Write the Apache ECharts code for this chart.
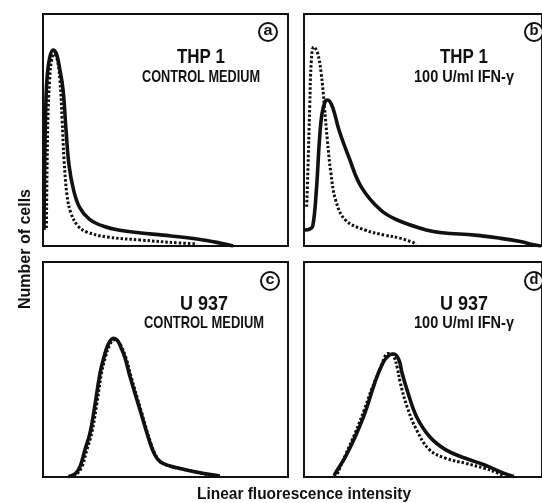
<!DOCTYPE html>
<html>
<head>
<meta charset="utf-8">
<script src="https://cdn.jsdelivr.net/npm/echarts@6/dist/echarts.min.js"></script>
<style>
html, body { margin: 0; padding: 0; background: #fff; }
#main { width: 542px; height: 503px; }
</style>
</head>
<body>
<div id="main"></div>
<script>
// x = linear fluorescence (channel, 0-100), y = relative number of cells (0-100)
var thpControlSolid = [[0.4,6.9],[0.6,28.4],[1.0,54.3],[1.6,71.6],[2.7,81.0],[4.1,84.5],[5.5,82.8],[6.9,75.9],[8.2,67.2],[9.4,50.0],[10.6,35.0],[12.4,24.5],[15.0,16.5],[19.0,11.5],[25.0,8.4],[32.0,6.7],[40.0,5.6],[49.0,4.7],[62.9,3.0],[72.2,1.3],[77.6,0]];
var thpControlDotted = [[1.4,7.8],[1.6,28.4],[2.0,54.3],[2.7,71.6],[3.5,80.2],[4.5,82.8],[5.7,81.0],[6.9,71.6],[7.8,54.3],[8.6,37.1],[9.8,22.0],[11.4,14.2],[14.3,8.6],[18.0,6.0],[26.1,3.9],[39.6,2.6],[55.9,1.3],[62.9,0.9]];
var thpIfnSolid = [[0.4,6.9],[2.4,7.3],[3.7,8.6],[5.2,24.1],[6.5,45.7],[7.6,57.3],[9.0,62.5],[9.9,62.9],[12.0,59.9],[14.7,50.0],[18.8,38.4],[24.1,25.4],[32.2,15.5],[39.2,11.2],[51.4,6.9],[58.2,5.7],[71.8,4.7],[82.7,3.3],[90.9,1.9],[97.1,0.4],[99.6,0]];
var thpIfnDotted = [[1.1,16.9],[1.6,31.5],[2.4,59.9],[3.1,80.2],[4.1,85.8],[5.7,83.2],[7.2,74.6],[8.6,59.9],[9.8,45.7],[11.3,31.5],[13.3,19.8],[17.4,11.2],[25.6,6.9],[33.8,4.7],[40.4,3.4],[47.3,0.9]];
var uControlSolid = [[10.3,0.1],[13.1,1.4],[15.1,4.8],[17.1,12.6],[19.2,20.5],[21.2,33.5],[23.3,48.4],[24.9,55.8],[26.5,61.4],[28.7,64.5],[30.2,63.7],[31.4,61.4],[33.5,55.3],[35.5,46.7],[39.6,31.2],[43.7,15.8],[45.7,10.2],[47.8,7.1],[51.8,5.1],[55.9,4.0],[64.1,2.0],[72.2,0.5]];
var uControlDotted = [[12.5,0.2],[14.0,1.6],[15.9,4.8],[17.9,12.6],[19.9,20.5],[21.9,33.5],[23.9,48.4],[25.5,55.8],[27.2,61.4],[29.2,63.8],[30.6,63.2],[31.9,61.0],[34.0,55.0],[36.0,46.5],[40.0,31.0],[44.1,15.4],[46.2,9.8],[48.4,6.8],[52.5,4.8],[57.0,3.6],[64.5,1.7],[70.0,0.4]];
var uIfnSolid = [[12.7,0.5],[13.3,2.0],[17.4,9.4],[21.5,18.7],[25.6,29.8],[29.7,43.7],[33.1,53.0],[35.8,56.7],[37.8,57.2],[39.9,54.4],[41.2,48.4],[43.3,40.5],[47.3,28.0],[52.8,18.7],[59.6,12.6],[67.8,8.7],[75.9,5.6],[84.1,1.7],[88.2,0.2]];
var uIfnDotted = [[14.0,1.4],[17.4,10.2],[21.5,20.5],[25.6,32.1],[28.3,40.5],[32.4,51.3],[33.9,55.8],[35.1,57.5],[36.5,57.4],[37.8,56.0],[39.2,50.7],[40.5,43.6],[43.3,32.7],[47.3,21.9],[52.8,12.6],[59.6,8.7],[67.8,6.4],[75.9,4.0],[81.2,1.9],[84.1,0.5]];

var panelLetters = ['a', 'b', 'c', 'd'];
var cellLines = ['THP 1', 'THP 1', 'U 937', 'U 937'];
var conditions = ['CONTROL MEDIUM', '100 U/ml IFN-γ', 'CONTROL MEDIUM', '100 U/ml IFN-γ'];

var fam = "'Liberation Sans', Arial, sans-serif";
var ink = '#111';

var grids = [
    { left: 43, top: 14, width: 245, height: 232 },
    { left: 304, top: 14, width: 245, height: 232 },
    { left: 43, top: 262, width: 245, height: 215 },
    { left: 304, top: 262, width: 245, height: 215 }
];
// where the texts of each panel sit
var spots = [
    { cx: 201, title: 57, sub: 77, circ: [268, 32] },
    { cx: 464, title: 57, sub: 77, circ: [534, 32] },
    { cx: 204, title: 304, sub: 323, circ: [270, 281] },
    { cx: 464, title: 304, sub: 323, circ: [534, 281] }
];

// the printed face is a condensed bold, so squeeze text to its width
var measureCtx = document.createElement('canvas').getContext('2d');
function squeeze(text, font, w) {
    measureCtx.font = font;
    return w / measureCtx.measureText(text).width;
}

function label(text, x, y, size, w, rot) {
    var font = 'bold ' + size + 'px ' + fam;
    var s = squeeze(text, font, w);
    return {
        type: 'text', x: x, y: y, rotation: rot || 0, scaleX: s, z: 10,
        style: { text: text, font: font, fill: ink,
                 textAlign: 'center', align: 'center', textVerticalAlign: 'middle', verticalAlign: 'middle' }
    };
}

var chart = echarts.init(document.getElementById('main'));

var gridOpt = grids.map(function (g) {
    return Object.assign({ show: true, borderColor: ink, borderWidth: 2, backgroundColor: 'transparent' }, g);
});
var xAxes = grids.map(function (g, i) {
    return { type: 'value', gridIndex: i, min: 0, max: 100, show: false };
});
var yAxes = grids.map(function (g, i) {
    return { type: 'value', gridIndex: i, min: 0, max: 100, show: false };
});

function curve(data, idx, dotted) {
    return {
        type: 'line',
        xAxisIndex: idx,
        yAxisIndex: idx,
        data: data,
        smooth: 0.4,
        symbol: 'none',
        silent: true,
        animation: false,
        lineStyle: dotted
            ? { color: ink, width: 3, type: [2.5, 2], cap: 'butt' }
            : { color: ink, width: 3.6, type: 'solid' }
    };
}

var series = [
    curve(thpControlSolid, 0, false), curve(thpControlDotted, 0, true),
    curve(thpIfnSolid, 1, false), curve(thpIfnDotted, 1, true),
    curve(uControlSolid, 2, false), curve(uControlDotted, 2, true),
    curve(uIfnSolid, 3, false), curve(uIfnDotted, 3, true)
];

var titleW = [48, 48, 48, 48];
var subW = [118, 100, 120, 100];

var graphics = [];
spots.forEach(function (s, i) {
    graphics.push(label(cellLines[i], s.cx, s.title, 21, titleW[i]));
    graphics.push(label(conditions[i], s.cx, s.sub, 17, subW[i]));
    graphics.push({
        type: 'circle', shape: { cx: s.circ[0], cy: s.circ[1], r: 9 }, z: 9,
        style: { fill: '#fff', stroke: ink, lineWidth: 2 }
    });
    graphics.push(label(panelLetters[i], s.circ[0], s.circ[1] - 1, 15, 9));
});
graphics.push(label('Number of cells', 25, 249, 17, 120, Math.PI / 2));
graphics.push(label('Linear fluorescence intensity', 304, 494, 17, 214));

var option = {
    backgroundColor: '#fff',
    animation: false,
    grid: gridOpt,
    xAxis: xAxes,
    yAxis: yAxes,
    series: series,
    graphic: graphics
};

option && chart.setOption(option);
</script>
</body>
</html>
